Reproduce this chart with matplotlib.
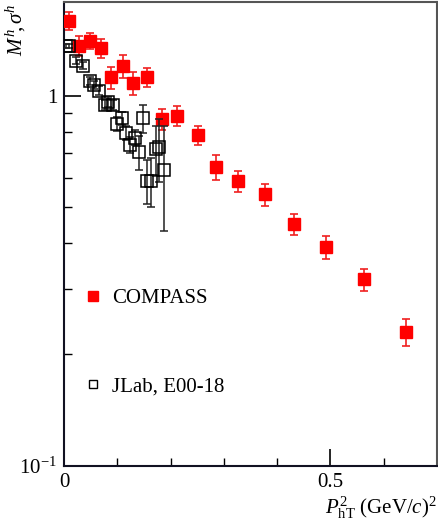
import matplotlib
matplotlib.use("Agg")
import matplotlib.pyplot as plt
from matplotlib.lines import Line2D
from matplotlib.ticker import FixedLocator, FixedFormatter, NullFormatter

plt.rcParams['font.family'] = ['Liberation Serif', 'DejaVu Serif']
plt.rcParams['mathtext.fontset'] = 'custom'
plt.rcParams['mathtext.rm'] = 'Liberation Serif'
plt.rcParams['mathtext.it'] = 'Liberation Serif:italic'
plt.rcParams['mathtext.bf'] = 'Liberation Serif:bold'

# COMPASS multiplicities vs P_hT^2
compass_x = [0.009, 0.029, 0.049, 0.070, 0.088, 0.110, 0.130, 0.155, 0.183, 0.213,
             0.251, 0.286, 0.326, 0.377, 0.431, 0.491, 0.563, 0.642]
compass_y = [1.598, 1.368, 1.411, 1.346, 1.123, 1.205, 1.082, 1.123, 0.867, 0.883,
             0.783, 0.641, 0.588, 0.542, 0.450, 0.390, 0.319, 0.230]
compass_err = [0.090, 0.085, 0.072, 0.083, 0.078, 0.084, 0.077, 0.066, 0.057, 0.055,
               0.047, 0.050, 0.038, 0.037, 0.030, 0.028, 0.022, 0.019]

# JLab E00-108 cross sections vs P_hT^2
jlab_x = [0.003, 0.009, 0.023, 0.035, 0.048, 0.057, 0.066, 0.076, 0.083, 0.092,
          0.100, 0.108, 0.116, 0.124, 0.133, 0.140, 0.148, 0.156, 0.164, 0.172,
          0.179, 0.188]
jlab_y = [1.365, 1.365, 1.246, 1.208, 1.098, 1.071, 1.034, 0.948, 0.965, 0.946,
          0.840, 0.870, 0.796, 0.737, 0.772, 0.704, 0.870, 0.590, 0.590, 0.719,
          0.726, 0.630]
jlab_err = [0.020, 0.020, 0.025, 0.025, 0.025, 0.025, 0.028, 0.030, 0.030, 0.030,
            0.035, 0.035, 0.035, 0.037, 0.035, 0.075, 0.077, 0.080, 0.090, 0.110,
            0.140, 0.200]

x_ticks = [0.0, 0.5]
x_tick_labels = ["0", "0.5"]
y_ticks = [0.1, 1.0]
y_tick_labels = [r"$10^{-1}$", "1"]

fig = plt.figure(figsize=(4.39, 5.29), dpi=100)
ax = fig.add_axes([0.1458, 0.1197, 0.8496, 0.8773])

ax.errorbar(compass_x, compass_y, yerr=compass_err, fmt='s', color='#ff0000',
            ms=8, mec='#ff0000', mfc='#ff0000', ecolor='#f02020',
            elinewidth=1.2, capsize=3, capthick=1.2, zorder=3)
ax.errorbar(jlab_x, jlab_y, yerr=jlab_err, fmt='s', ms=8.5, mfc='none',
            mec='black', mew=1.1, ecolor='#222222', elinewidth=1.1,
            capsize=3, capthick=1.1, zorder=4)

ax.set_yscale('log')
ax.set_xlim(0, 0.70)
ax.set_ylim(0.1, 1.80)

ax.xaxis.set_major_locator(FixedLocator(x_ticks))
ax.xaxis.set_major_formatter(FixedFormatter(x_tick_labels))
ax.xaxis.set_minor_locator(FixedLocator([0.1, 0.2, 0.3, 0.4, 0.6]))
ax.yaxis.set_major_locator(FixedLocator(y_ticks))
ax.yaxis.set_major_formatter(FixedFormatter(y_tick_labels))
ax.yaxis.set_minor_locator(FixedLocator([0.2, 0.3, 0.4, 0.5, 0.6, 0.7, 0.8, 0.9]))
ax.yaxis.set_minor_formatter(NullFormatter())

ax.tick_params(which='both', direction='in', top=False, right=False,
               labelsize=15, colors='black')
ax.tick_params(which='major', length=12, width=1.2, pad=5)
ax.tick_params(which='minor', length=6, width=1.0)

for side in ('left', 'bottom'):
    ax.spines[side].set_color('#111122')
    ax.spines[side].set_linewidth(1.5)
for side in ('top', 'right'):
    ax.spines[side].set_color('#555555')
    ax.spines[side].set_linewidth(1.5)

ax.set_ylabel(r"$M^{h}\!,\sigma^{h}$", fontsize=15, loc='top')
ax.yaxis.set_label_coords(-0.097, 0.995)
ax.set_xlabel(r"$P^{2}_{\mathrm{hT}}$ (GeV/$c$)$^{2}$", fontsize=15, loc='right',
              labelpad=2)

handles = [
    Line2D([], [], ls='none', marker='s', ms=7.7, color='#ff0000'),
    Line2D([], [], ls='none', marker='s', ms=5.8, mfc='none', mec='black', mew=1.0),
]
ax.legend(handles, ["COMPASS", "JLab, E00-18"], loc='upper left',
          bbox_to_anchor=(0.028, 0.40), frameon=False, fontsize=15,
          handlelength=1.0, handletextpad=0.4, labelspacing=3.3,
          borderaxespad=0.0)

fig.savefig("out.png", dpi=100)
